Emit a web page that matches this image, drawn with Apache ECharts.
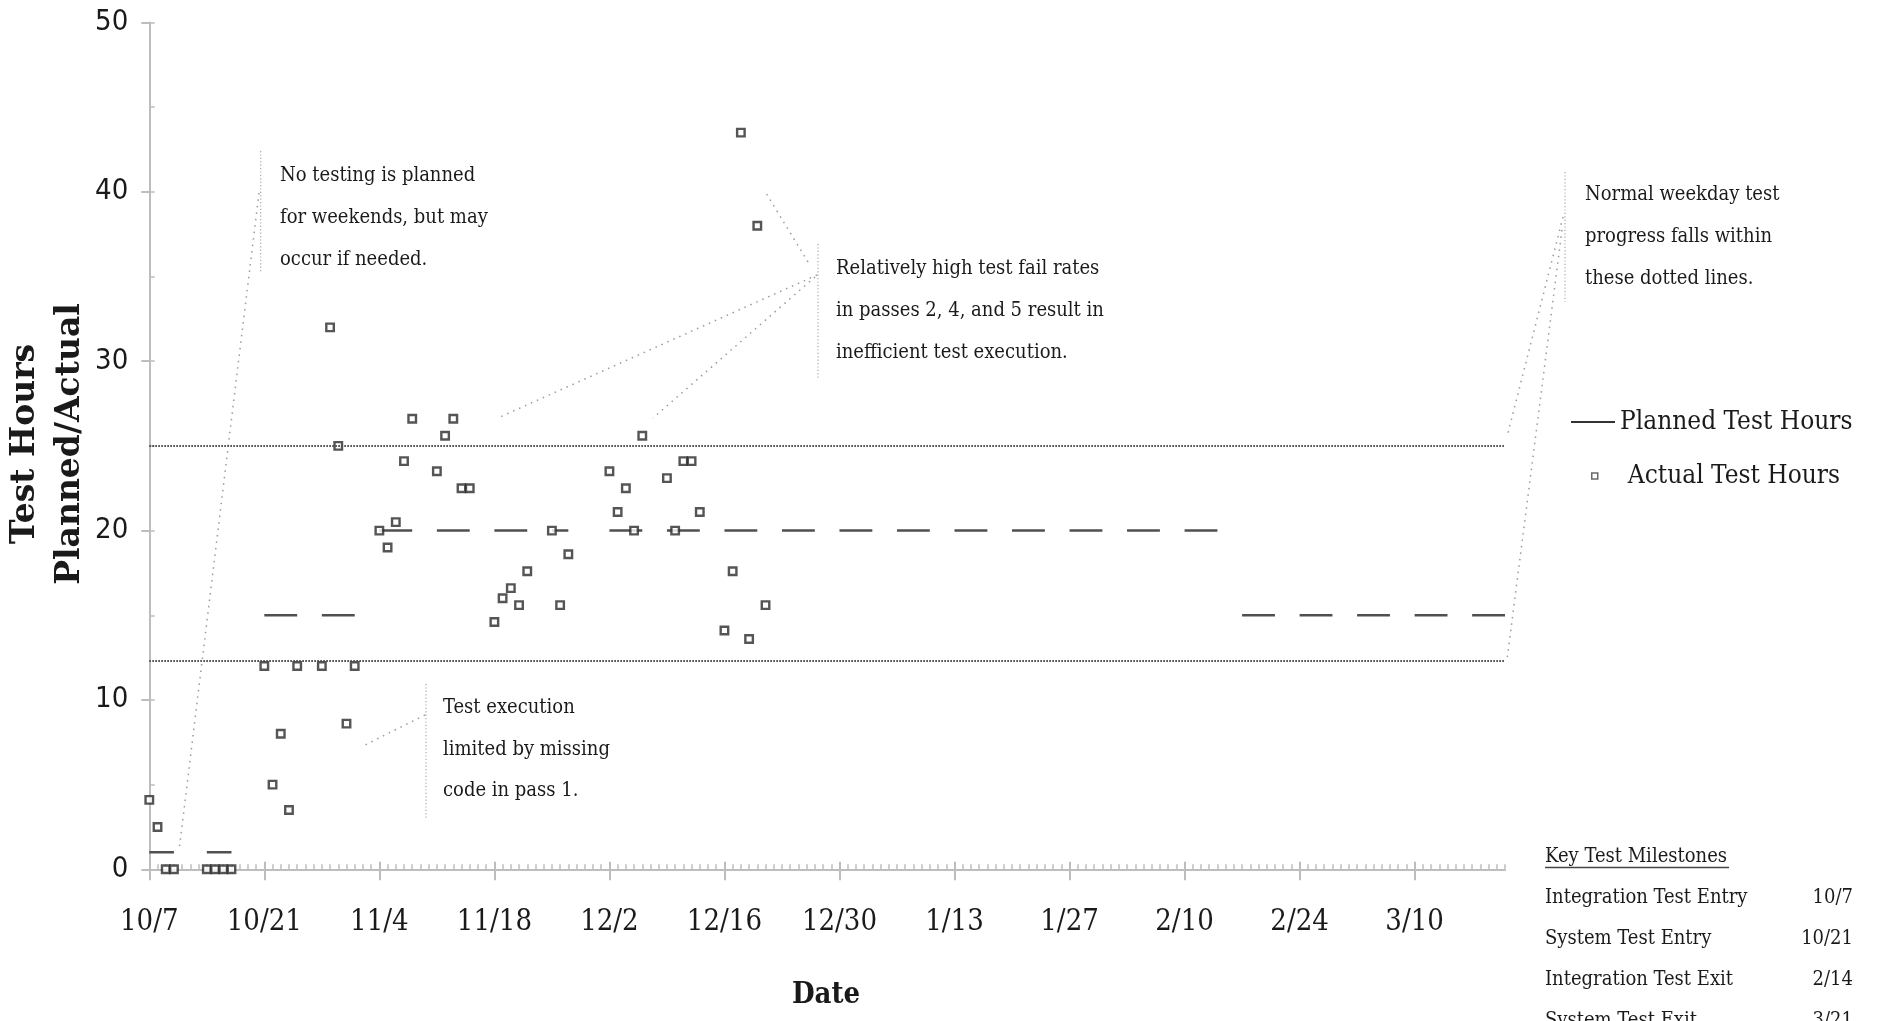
<!DOCTYPE html>
<html><head><meta charset="utf-8">
<script src="https://cdn.jsdelivr.net/npm/echarts@6/dist/echarts.min.js"></script>
<style>html,body{margin:0;padding:0;background:#fff}#c{width:1881px;height:1021px}</style>
</head><body><div id="c"></div>
<script>
// ---------------- data ----------------
// x axis: days since 10/7 (Monday)
const xTickDays   = [0, 14, 28, 42, 56, 70, 84, 98, 112, 126, 140, 154];
const xTickLabels = ['10/7','10/21','11/4','11/18','12/2','12/16','12/30','1/13','1/27','2/10','2/24','3/10'];
const dayMax = 165; // 3/21

const actualDays  = [0, 1, 2, 3, 7, 8, 9, 10,
  14, 15, 16, 17, 18, 21, 22, 23, 24, 25,
  28, 29, 30, 31, 32, 35, 36, 37, 38, 39,
  42, 43, 44, 45, 46, 49, 50, 51,
  56, 57, 58, 59, 60, 63, 64, 65, 66, 67,
  70, 71, 72, 73, 74, 75];
const actualHours = [4.1, 2.5, 0, 0, 0, 0, 0, 0,
  12, 5, 8, 3.5, 12, 12, 32, 25, 8.6, 12,
  20, 19, 20.5, 24.1, 26.6, 23.5, 25.6, 26.6, 22.5, 22.5,
  14.6, 16, 16.6, 15.6, 17.6, 20, 15.6, 18.6,
  23.5, 21.1, 22.5, 20, 25.6, 23.1, 20, 24.1, 24.1, 21.1,
  14.1, 17.6, 43.5, 13.6, 38, 15.6];

// planned hours: weekday runs (start day, end day, hours)
const plannedStart = [0, 7, 14, 21, 28, 35, 42, 49, 56, 63, 70, 77, 84, 91, 98, 105, 112, 119, 126, 133, 140, 147, 154, 161];
const plannedEnd   = [3, 10, 18, 25, 32, 39, 46, 51, 60, 67, 74, 81, 88, 95, 102, 109, 116, 123, 130, 137, 144, 151, 158, 165];
const plannedHours = [1, 1, 15, 15, 20, 20, 20, 20, 20, 20, 20, 20, 20, 20, 20, 20, 20, 20, 20, 15, 15, 15, 15, 15];

const bandUpper = 25;
const bandLower = 12.3;

const milestoneNames = ['Integration Test Entry', 'System Test Entry', 'Integration Test Exit', 'System Test Exit'];
const milestoneDates = ['10/7', '10/21', '2/14', '3/21'];

const note1 = 'No testing is planned\nfor weekends, but may\noccur if needed.';
const note2 = 'Test execution\nlimited by missing\ncode in pass 1.';
const note3 = 'Relatively high test fail rates\nin passes 2, 4, and 5 result in\ninefficient test execution.';
const note4 = 'Normal weekday test\nprogress falls within\nthese dotted lines.';

// ---------------- build ----------------
const FONT = "'DejaVu Serif Condensed','DejaVu Serif',serif";
const NUMFONT = "'Liberation Sans Narrow','DejaVu Sans Condensed',sans-serif";
const TXT = '#1a1a1a';
const AX = '#bdbdbd';

const plannedData = [];
plannedStart.forEach((s, i) => {
  plannedData.push([s, plannedHours[i]], [plannedEnd[i], plannedHours[i]], [plannedEnd[i], '-']);
});
const actualData = actualDays.map((d, i) => [d, actualHours[i]]);

function text(x, y, str, o) {
  o = o || {};
  return {
    type: 'text', x: x, y: y, rotation: o.rotation || 0, silent: true, z: 10,
    style: {
      text: str, fill: TXT,
      fontFamily: o.family || FONT, fontSize: o.size || 20, fontWeight: o.weight || 'normal',
      lineHeight: o.lh || 42,
      align: o.align || 'left', textAlign: o.align || 'left',
      verticalAlign: o.valign || 'top', textVerticalAlign: o.valign || 'top'
    }
  };
}
function seg(x1, y1, x2, y2, o) {
  o = o || {};
  return {
    type: 'line', silent: true, z: 5,
    shape: {x1: x1, y1: y1, x2: x2, y2: y2},
    style: {stroke: o.color || '#9a9a9a', lineWidth: o.width || 1.5, lineDash: o.dash === undefined ? [1.5, 5] : o.dash}
  };
}
const bracket = {color: '#a8a8a8', width: 1.2, dash: [1.2, 2.2]};

const graphics = [
  // y axis title
  text(48, 444, 'Test Hours\nPlanned/Actual', {family: "'DejaVu Serif',serif", weight: 'bold', size: 33, lh: 45, align: 'center', valign: 'middle', rotation: Math.PI / 2}),
  // x axis title
  text(826, 995, 'Date', {weight: 'bold', size: 29, align: 'center', valign: 'middle', lh: 34}),
  // annotation 1
  text(280, 155, note1, {lh: 42}),
  seg(260.7, 151, 260.7, 272, bracket),
  seg(259, 193, 179, 851),
  // annotation 2
  text(443, 687, note2, {lh: 41.7}),
  seg(426, 684, 426, 819, bracket),
  seg(425, 715, 365, 745),
  // annotation 3
  text(836, 248, note3, {lh: 42}),
  seg(818, 244, 818, 380, bracket),
  seg(817, 275, 500, 417),
  seg(815, 277, 653, 418),
  seg(808, 262, 766, 193),
  // annotation 4
  text(1585, 174, note4, {lh: 42}),
  seg(1565, 172, 1565, 302, bracket),
  seg(1563, 217, 1507, 437),
  seg(1562, 230, 1507, 660),
  // key milestones
  text(1545, 836, 'Key Test Milestones', {lh: 41}),
  seg(1545, 867.5, 1729, 867.5, {color: '#444', width: 1.5, dash: null}),
  text(1545, 877.6, milestoneNames.join('\n'), {lh: 41}),
  text(1853, 877.6, milestoneDates.join('\n'), {lh: 41, align: 'right'})
];

const option = {
  animation: false,
  backgroundColor: '#fff',
  grid: {left: 149.3, top: 22.5, width: 1355.7, height: 846.8, containLabel: false, outerBoundsMode: 'none'},
  legend: [
    {data: [{name: 'Planned Test Hours', icon: 'rect'}], left: 1571, top: 409, padding: 0, itemWidth: 44, itemHeight: 2,
     selectedMode: false, itemStyle: {color: '#333', borderWidth: 0},
     textStyle: {fontFamily: FONT, fontSize: 26, color: TXT}},
    {data: [{name: 'Actual Test Hours', icon: 'rect'}], left: 1591, top: 463, padding: 0, itemWidth: 6, itemHeight: 6,
     selectedMode: false, itemStyle: {color: '#fff', borderColor: '#444', borderWidth: 1.5},
     textStyle: {fontFamily: FONT, fontSize: 26, color: TXT, padding: [0, 0, 0, 25]}}
  ],
  xAxis: [
    {type: 'value', min: 0, max: dayMax, interval: 14, position: 'bottom',
     axisLine: {show: true, onZero: false, lineStyle: {color: AX, width: 2}},
     axisTick: {show: true, inside: false, length: 11, customValues: xTickDays, lineStyle: {color: AX, width: 2}},
     axisLabel: {show: true, customValues: xTickDays, margin: 39, fontFamily: FONT, fontSize: 29, color: TXT,
       formatter: v => { const i = xTickDays.indexOf(v); return i >= 0 ? xTickLabels[i] : ''; }},
     splitLine: {show: false}},
    {type: 'value', min: 0, max: dayMax, interval: 14, position: 'bottom',
     axisLine: {show: false, onZero: false},
     axisTick: {show: true, inside: true, length: 7.6, customValues: xTickDays, lineStyle: {color: AX, width: 2}},
     axisLabel: {show: false}, splitLine: {show: false}},
    {type: 'value', min: 0, max: dayMax, interval: 1, position: 'bottom',
     axisLine: {show: false, onZero: false},
     axisTick: {show: true, inside: true, length: 5, lineStyle: {color: AX, width: 1.5}},
     axisLabel: {show: false}, splitLine: {show: false}}
  ],
  yAxis: [
    {type: 'value', min: 0, max: 50, interval: 10, position: 'left',
     axisLine: {show: true, onZero: false, lineStyle: {color: AX, width: 2}},
     axisTick: {show: true, inside: false, length: 8, lineStyle: {color: AX, width: 2}},
     axisLabel: {show: true, margin: 21, fontFamily: NUMFONT, fontSize: 29, color: TXT},
     splitLine: {show: false}},
    {type: 'value', min: 0, max: 50, interval: 5, position: 'left',
     axisLine: {show: false, onZero: false},
     axisTick: {show: true, inside: true, length: 5.5, lineStyle: {color: AX, width: 1.5}},
     axisLabel: {show: false}, splitLine: {show: false}}
  ],
  series: [
    {name: 'Planned Test Hours', type: 'line', xAxisIndex: 0, yAxisIndex: 0, data: plannedData,
     symbol: 'none', connectNulls: false, silent: true,
     lineStyle: {color: '#505050', width: 2.5}, itemStyle: {color: '#505050'}, z: 2,
     markLine: {silent: true, symbol: ['none', 'none'], label: {show: false},
       lineStyle: {type: [1.6, 1.4], color: '#4a4a4a', width: 1.8},
       data: [{yAxis: bandUpper}, {yAxis: bandLower}]}},
    {name: 'Actual Test Hours', type: 'scatter', xAxisIndex: 0, yAxisIndex: 0, data: actualData,
     symbol: 'rect', symbolSize: 7.5, silent: true,
     itemStyle: {color: '#fff', borderColor: '#2a2a2a', borderWidth: 2.4}, z: 3}
  ],
  graphic: {elements: graphics}
};

const chart = echarts.init(document.getElementById('c'), null, {renderer: 'canvas', width: 1881, height: 1021});
chart.setOption(option);
</script>
</body></html>
